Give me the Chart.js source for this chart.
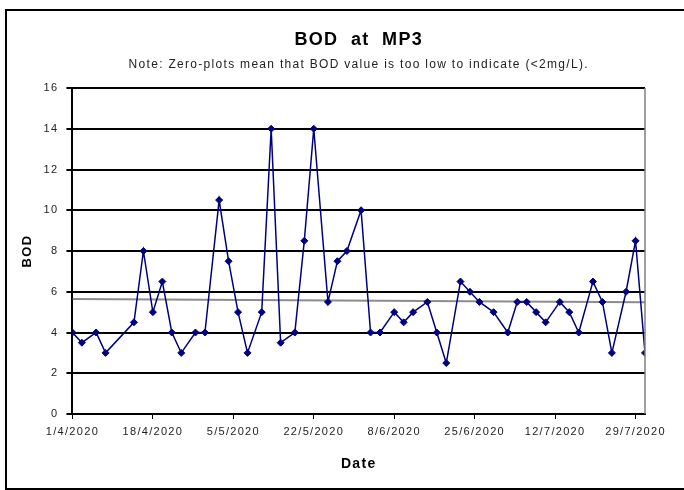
<!DOCTYPE html>
<html>
<head>
<meta charset="utf-8">
<script src="https://cdn.jsdelivr.net/npm/chart.js@4"></script>
<style>
  html, body { margin: 0; padding: 0; background: #fff; }
  #wrap { width: 684px; height: 490px; }
</style>
</head>
<body>
<div id="wrap"><canvas id="bodChart" width="684" height="490"></canvas></div>
<script>
// sampling dates (d/m/yyyy) and BOD readings in mg/L
const dates = ['1/4/2020', '3/4/2020', '6/4/2020', '8/4/2020', '14/4/2020', '16/4/2020', '18/4/2020', '20/4/2020',
    '22/4/2020', '24/4/2020', '27/4/2020', '29/4/2020', '2/5/2020', '4/5/2020', '6/5/2020', '8/5/2020',
    '11/5/2020', '13/5/2020', '15/5/2020', '18/5/2020', '20/5/2020', '22/5/2020', '25/5/2020', '27/5/2020',
    '29/5/2020', '1/6/2020', '3/6/2020', '5/6/2020', '8/6/2020', '10/6/2020', '12/6/2020', '15/6/2020',
    '17/6/2020', '19/6/2020', '22/6/2020', '24/6/2020', '26/6/2020', '29/6/2020', '2/7/2020', '4/7/2020',
    '6/7/2020', '8/7/2020', '10/7/2020', '13/7/2020', '15/7/2020', '17/7/2020', '20/7/2020', '22/7/2020',
    '24/7/2020', '27/7/2020', '29/7/2020', '31/7/2020'];
const bodValues = [4, 3.5, 4, 3, 4.5, 8, 5, 6.5, 4, 3, 4, 4, 10.5, 7.5, 5, 3,
    5, 14, 3.5, 4, 8.5, 14, 5.5, 7.5, 8, 10, 4, 4, 5, 4.5, 5, 5.5,
    4, 2.5, 6.5, 6, 5.5, 5, 4, 5.5, 5.5, 5, 4.5, 5.5, 5, 4, 6.5, 5.5,
    3, 6, 8.5, 3];
// linear trend line ends
const trendDates = ['1/4/2020', '31/7/2020'];
const trendValues = [5.65, 5.48];
const yTicks = [0, 2, 4, 6, 8, 10, 12, 14, 16];

const DAY = 86400000;
const start = Date.UTC(2020, 3, 1);

function toDay(s) {
    const p = s.split('/');
    return (Date.UTC(+p[2], +p[1] - 1, +p[0]) - start) / DAY;
}
function fromDay(n) {
    const d = new Date(start + n * DAY);
    return d.getUTCDate() + '/' + (d.getUTCMonth() + 1) + '/' + d.getUTCFullYear();
}

// the original text is spaced out a bit
function spacing(chart) { chart.ctx.letterSpacing = '1.3px'; }

const framePlugin = {
    id: 'frame',
    beforeLayout: spacing,
    beforeDraw(chart) {
        spacing(chart);
        const c = chart.ctx;
        c.save();
        c.fillStyle = '#fff';
        c.fillRect(0, 0, chart.width, chart.height);
        c.strokeStyle = '#000';
        c.lineWidth = 2;
        c.strokeRect(6, 10, 700, 479);
        c.restore();
    },
    afterDatasetsDraw(chart) {
        // grey right edge of plot area
        const a = chart.chartArea;
        const c = chart.ctx;
        c.save();
        c.strokeStyle = '#808080';
        c.lineWidth = 1.5;
        c.beginPath();
        c.moveTo(a.right, a.top);
        c.lineTo(a.right, a.bottom);
        c.stroke();
        c.restore();
    }
};

const ctx = document.getElementById('bodChart').getContext('2d');
new Chart(ctx, {
    type: 'line',
    data: {
        datasets: [{
            label: 'BOD',
            data: dates.map((d, i) => ({ x: toDay(d), y: bodValues[i] })),
            borderColor: '#000080',
            backgroundColor: '#000080',
            borderWidth: 1.5,
            pointStyle: 'rectRot',
            pointRadius: 3.5,
            pointBorderWidth: 1,
            tension: 0,
            order: 1
        }, {
            label: 'Trend',
            data: trendDates.map((d, i) => ({ x: toDay(d), y: trendValues[i] })),
            borderColor: '#8c8c8c',
            borderWidth: 2,
            pointRadius: 0,
            order: 2
        }]
    },
    options: {
        responsive: false,
        animation: false,
        layout: { padding: { left: 20, right: 39, top: 29, bottom: 17 } },
        plugins: {
            legend: { display: false },
            tooltip: { enabled: false },
            title: {
                display: true,
                fullSize: false,
                text: 'BOD  at  MP3',
                color: '#000',
                font: { family: 'Liberation Sans', size: 18, weight: 'bold' },
                padding: { top: 0, bottom: 7 }
            },
            subtitle: {
                display: true,
                fullSize: false,
                text: 'Note: Zero-plots mean that BOD value is too low to indicate (<2mg/L).',
                color: '#222',
                font: { family: 'Liberation Sans', size: 12 },
                padding: { top: 0, bottom: 16 }
            }
        },
        scales: {
            x: {
                type: 'linear',
                min: 0,
                max: 121,
                grid: { display: true, drawOnChartArea: false, color: '#000', lineWidth: 1, tickLength: 5 },
                border: { color: '#000', width: 2 },
                ticks: {
                    stepSize: 17,
                    includeBounds: false,
                    maxRotation: 0,
                    autoSkip: false,
                    color: '#222',
                    font: { family: 'Liberation Sans', size: 11 },
                    padding: 6,
                    callback: v => fromDay(v)
                },
                title: {
                    display: true,
                    text: 'Date',
                    color: '#000',
                    font: { family: 'Liberation Sans', size: 14, weight: 'bold' },
                    padding: { top: 12, bottom: 0 }
                }
            },
            y: {
                min: 0,
                max: 16,
                afterBuildTicks: axis => { axis.ticks = yTicks.map(v => ({ value: v })); },
                grid: { color: '#000', lineWidth: 2, tickLength: 6 },
                border: { color: '#000', width: 2 },
                ticks: {
                    color: '#222',
                    font: { family: 'Liberation Sans', size: 11 },
                    padding: 8
                },
                title: {
                    display: true,
                    text: 'BOD',
                    color: '#000',
                    font: { family: 'Liberation Sans', size: 13, weight: 'bold' },
                    padding: { top: 0, bottom: 0 }
                }
            }
        }
    },
    plugins: [framePlugin]
});
</script>
</body>
</html>
